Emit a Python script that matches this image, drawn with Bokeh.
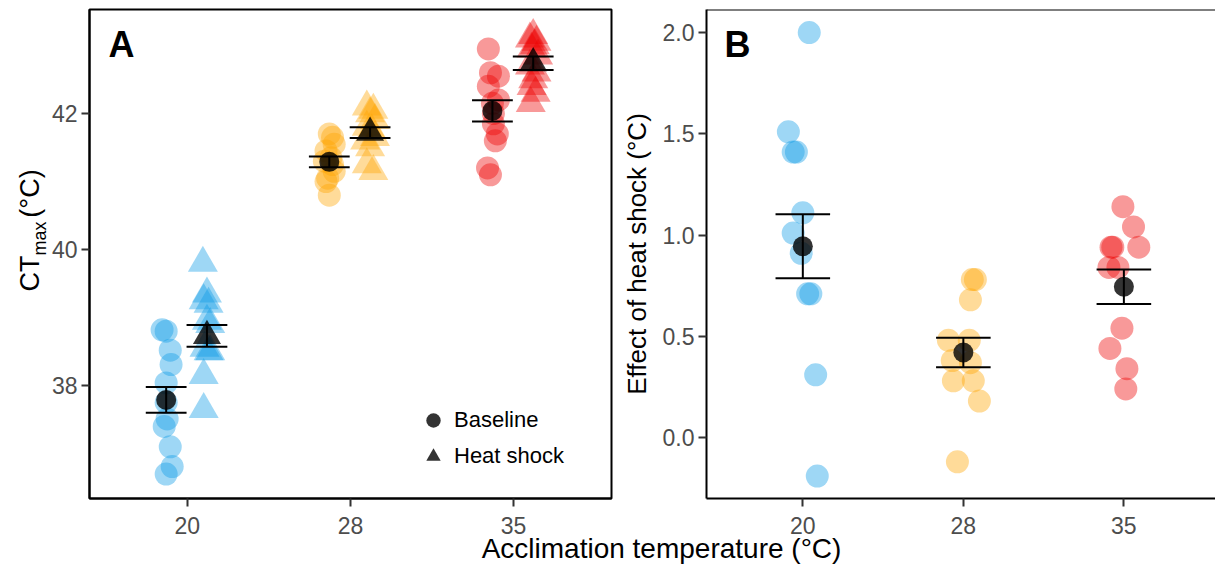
import math
from bokeh.plotting import figure
from bokeh.models import (Range1d, FixedTicker, Label, Legend, LegendItem, Span,
                          PrintfTickFormatter)
from bokeh.layouts import row, column
from bokeh.embed import file_html
from bokeh.resources import INLINE

# ---------------- data ----------------
temps = ["20", "28", "35"]
group_colors = ["#0D9AE6", "#FFA500", "#EE0000"]

# Panel A: CTmax (°C), baseline (circles) and heat shock (triangles)
base_20 = [38.82, 38.80, 38.52, 38.31, 38.04, 37.75, 37.51, 37.40, 37.10, 36.81, 36.70]
base_20_jit = [-0.025, 0.0, 0.025, 0.03, 0.0, 0.0, 0.006, -0.012, 0.025, 0.037, 0.0]
base_28 = [41.70, 41.65, 41.55, 41.45, 41.35, 41.30, 41.25, 41.15, 41.05, 41.00, 40.80]
base_28_jit = [0.0, 0.02, 0.03, -0.02, 0.01, -0.03, 0.02, 0.03, -0.01, -0.02, 0.0]
base_35 = [42.95, 42.60, 42.55, 42.40, 42.20, 42.15, 42.00, 41.85, 41.70, 41.60, 41.20, 41.10]
base_35_jit = [-0.025, -0.012, 0.037, -0.025, 0.037, 0.0, 0.006, 0.006, 0.03, 0.018, -0.03, -0.012]

hs_20 = [39.80, 39.35, 39.25, 39.20, 38.95, 38.90, 38.55, 38.50, 38.50, 38.15, 37.65]
hs_20_jit = [-0.025, 0.0, -0.02, 0.01, 0.0, 0.02, -0.015, 0.01, 0.02, -0.02, -0.02]
hs_28 = [42.10, 42.05, 42.00, 41.90, 41.80, 41.75, 41.65, 41.60, 41.50, 41.25, 41.15]
hs_28_jit = [-0.02, 0.02, 0.0, 0.03, -0.02, 0.01, 0.03, -0.03, 0.0, -0.02, 0.02]
hs_35 = [43.15, 43.10, 43.05, 43.00, 42.95, 42.85, 42.70, 42.60, 42.50, 42.40, 42.30, 42.15]
hs_35_jit = [0.0, -0.02, 0.02, 0.01, -0.01, 0.03, -0.02, 0.02, 0.0, -0.01, 0.015, -0.015]

base_mean = [37.79, 41.29, 42.04]
base_se = [0.19, 0.08, 0.155]
hs_mean = [38.73, 41.72, 42.74]
hs_se = [0.16, 0.08, 0.10]

# Panel B: effect of heat shock (°C)
eff_20 = [2.00, 1.51, 1.41, 1.41, 1.11, 1.01, 0.91, 0.71, 0.71, 0.31, -0.19]
eff_20_jit = [0.04, -0.09, -0.06, -0.04, 0.0, -0.06, -0.01, 0.03, 0.05, 0.08, 0.09]
eff_28 = [0.78, 0.78, 0.68, 0.48, 0.48, 0.38, 0.37, 0.28, 0.28, 0.18, -0.12]
eff_28_jit = [0.056, 0.075, 0.044, -0.093, 0.037, -0.069, 0.044, -0.062, 0.062, 0.10, -0.037]
eff_35 = [1.14, 1.04, 0.94, 0.94, 0.94, 0.84, 0.84, 0.54, 0.44, 0.34, 0.24]
eff_35_jit = [-0.006, 0.06, 0.093, -0.069, -0.08, -0.093, -0.037, -0.012, -0.087, 0.019, 0.012]

eff_mean = [0.945, 0.42, 0.745]
eff_se = [0.158, 0.073, 0.085]

a_yticks = [38, 40, 42]
b_yticks = [0.0, 0.5, 1.0, 1.5, 2.0]

# ---------------- style ----------------
FONT = "Liberation Sans"
TICK_FS = "23px"
DODGE_BASE, DODGE_HS = -0.13, 0.12
CAP_A, CAP_B = 0.25, 0.34
TOP, FRAME_H, BOTTOM = 9, 489, 46
CANVAS_H = TOP + FRAME_H + BOTTOM
YSTRIP_W = 48


def style_axes(p, yticks):
    p.xgrid.visible = False
    p.ygrid.visible = False
    for ax in (p.xaxis[0], p.yaxis[0]):
        ax.axis_line_width = 2
        ax.axis_line_color = "black"
        ax.major_tick_line_width = 2
        ax.major_tick_line_color = "#333333"
        ax.major_tick_out = 8
        ax.major_tick_in = 0
        ax.minor_tick_line_color = None
        ax.major_label_text_font = FONT
        ax.major_label_text_font_size = TICK_FS
        ax.major_label_text_color = "#4D4D4D"
    p.xaxis[0].major_label_standoff = 10
    p.yaxis[0].major_label_standoff = 4
    p.xaxis[0].ticker = FixedTicker(ticks=[1, 2, 3])
    p.xaxis[0].major_label_overrides = {i + 1: t for i, t in enumerate(temps)}
    p.yaxis[0].ticker = FixedTicker(ticks=yticks)


def errorbars(p, xs, means, ses, capw):
    lo = [m - s for m, s in zip(means, ses)]
    hi = [m + s for m, s in zip(means, ses)]
    p.segment(x0=xs, y0=lo, x1=xs, y1=hi, line_color="black", line_width=2)
    for yy in (lo, hi):
        p.segment(x0=[x - capw / 2 for x in xs], y0=yy,
                  x1=[x + capw / 2 for x in xs], y1=yy,
                  line_color="black", line_width=2)


def blank(p):
    p.outline_line_color = None
    p.xgrid.visible = False
    p.ygrid.visible = False


# ---------------- y-axis title of panel A (own narrow strip) ----------------
pY = figure(width=YSTRIP_W, height=CANVAS_H, title=None, x_range=Range1d(0, 1),
            y_range=Range1d(0, 1), output_backend="svg", toolbar_location=None,
            x_axis_location=None, y_axis_location=None, min_border=0)
blank(pY)
ang = math.pi / 2
for txt, fs, cx, cy in [("CT", "27px", 29, 319), ("max", "18px", 39, 284),
                        ("(°C)", "27px", 29, 239)]:
    pY.add_layout(Label(x=cx, y=CANVAS_H - cy, x_units="screen", y_units="screen",
                        angle=ang, text=txt, text_font=FONT, text_font_size=fs,
                        text_align="center", text_baseline="middle",
                        text_color="black"))

# ---------------- Panel A ----------------
pA = figure(frame_width=522, frame_height=FRAME_H, title=None,
            x_range=Range1d(0.4, 3.6), y_range=Range1d(36.34, 43.53),
            output_backend="svg", toolbar_location=None,
            min_border_left=89 - YSTRIP_W, min_border_right=7, min_border_top=TOP,
            min_border_bottom=BOTTOM)
pA.outline_line_color = "black"
pA.outline_line_width = 2
style_axes(pA, a_yticks)

base_groups = [(base_20, base_20_jit), (base_28, base_28_jit), (base_35, base_35_jit)]
hs_groups = [(hs_20, hs_20_jit), (hs_28, hs_28_jit), (hs_35, hs_35_jit)]
for i, ((ys, jit), col) in enumerate(zip(base_groups, group_colors)):
    xs = [i + 1 + DODGE_BASE + j for j in jit]
    pA.scatter(x=xs, y=ys, marker="circle", size=23, fill_color=col,
               fill_alpha=0.4, line_color=None)
for i, ((ys, jit), col) in enumerate(zip(hs_groups, group_colors)):
    xs = [i + 1 + DODGE_HS + j for j in jit]
    pA.scatter(x=xs, y=ys, marker="triangle", size=30, fill_color=col,
               fill_alpha=0.4, line_color=None)

xb = [i + 1 + DODGE_BASE for i in range(3)]
xh = [i + 1 + DODGE_HS for i in range(3)]
r_base = pA.scatter(x=xb, y=base_mean, marker="circle", size=20,
                    fill_color="black", fill_alpha=0.8, line_color=None)
r_hs = pA.scatter(x=xh, y=hs_mean, marker="triangle", size=28,
                  fill_color="black", fill_alpha=0.8, line_color=None)
errorbars(pA, xb, base_mean, base_se, CAP_A)
errorbars(pA, xh, hs_mean, hs_se, CAP_A)

legend = Legend(items=[LegendItem(label="Baseline", renderers=[r_base]),
                       LegendItem(label="Heat shock", renderers=[r_hs])],
                location=(325, 24), orientation="vertical",
                glyph_width=38, glyph_height=36, label_height=36,
                label_standoff=2, label_text_font=FONT,
                label_text_font_size="22px", label_text_color="black",
                background_fill_alpha=0, border_line_color=None,
                padding=0, margin=0, spacing=0)
pA.add_layout(legend)

pA.add_layout(Label(x=19, y=FRAME_H - 35, x_units="screen", y_units="screen",
                    text="A", text_font=FONT, text_font_size="36px",
                    text_font_style="bold", text_baseline="middle",
                    text_align="left", text_color="black"))

# ---------------- Panel B ----------------
pB = figure(frame_width=510, frame_height=FRAME_H, title=None,
            x_range=Range1d(0.4, 3.577), y_range=Range1d(-0.301, 2.114),
            output_backend="svg", toolbar_location=None,
            min_border_left=86, min_border_right=0, min_border_top=TOP,
            min_border_bottom=BOTTOM)
pB.outline_line_color = None
style_axes(pB, b_yticks)
pB.yaxis[0].formatter = PrintfTickFormatter(format="%.1f")
pB.yaxis[0].axis_label = "Effect of heat shock (°C)"
pB.yaxis[0].axis_label_text_font = FONT
pB.yaxis[0].axis_label_text_font_size = "26px"
pB.yaxis[0].axis_label_text_font_style = "normal"
pB.yaxis[0].axis_label_text_color = "black"
pB.yaxis[0].axis_label_standoff = 8
pB.add_layout(Span(location=2.114, dimension="width", line_color="black", line_width=2))

eff_groups = [(eff_20, eff_20_jit), (eff_28, eff_28_jit), (eff_35, eff_35_jit)]
for i, ((ys, jit), col) in enumerate(zip(eff_groups, group_colors)):
    xs = [i + 1 + j for j in jit]
    pB.scatter(x=xs, y=ys, marker="circle", size=23, fill_color=col,
               fill_alpha=0.4, line_color=None)
xe = [i + 1 for i in range(3)]
pB.scatter(x=xe, y=eff_mean, marker="circle", size=20, fill_color="black",
           fill_alpha=0.8, line_color=None)
errorbars(pB, xe, eff_mean, eff_se, CAP_B)

pB.add_layout(Label(x=18, y=FRAME_H - 35, x_units="screen", y_units="screen",
                    text="B", text_font=FONT, text_font_size="36px",
                    text_font_style="bold", text_baseline="middle",
                    text_align="left", text_color="black"))

# ---------------- shared x-axis title (transparent strip, pulled up) ----------------
OVERLAP = 16
XH = 579 - CANVAS_H + OVERLAP - 1
pX = figure(width=1214, height=XH, title=None, x_range=Range1d(0, 1),
            y_range=Range1d(0, 1), output_backend="svg", toolbar_location=None,
            x_axis_location=None, y_axis_location=None, min_border=0,
            margin=(-OVERLAP, 0, 0, 0))
blank(pX)
pX.background_fill_alpha = 0
pX.border_fill_alpha = 0
pX.add_layout(Label(x=661, y=XH - (548 - (CANVAS_H - OVERLAP)), x_units="screen",
                    y_units="screen", text="Acclimation temperature (°C)",
                    text_font=FONT, text_font_size="28px", text_align="center",
                    text_baseline="middle", text_color="black"))

layout = column(row(pY, pA, pB), pX)
open("out.html", "w").write(file_html(layout, INLINE))
